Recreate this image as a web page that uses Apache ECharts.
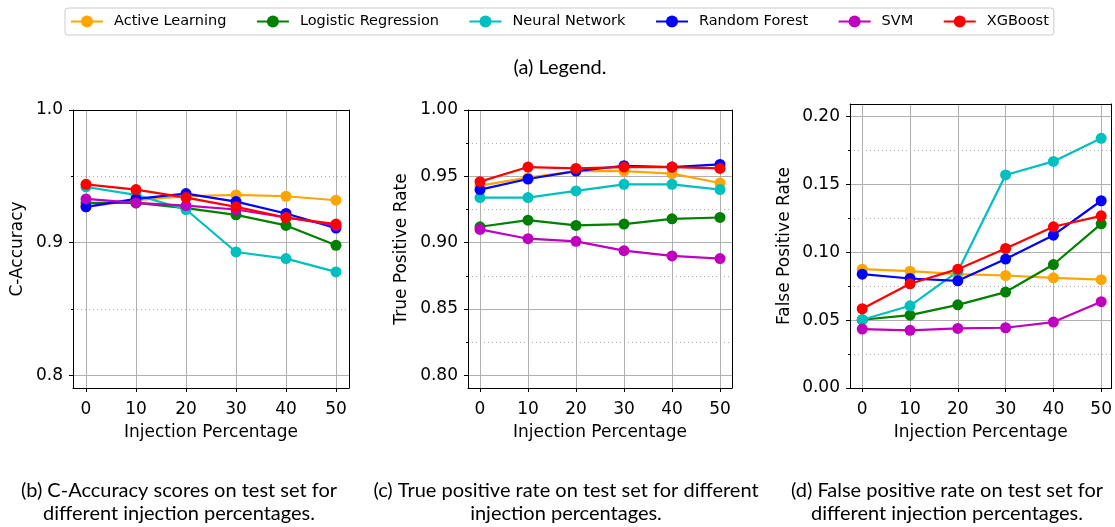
<!DOCTYPE html>
<html><head><meta charset="utf-8">
<script src="https://cdn.jsdelivr.net/npm/echarts@6/dist/echarts.min.js"></script>
<style>html,body{margin:0;padding:0;background:#fff}#c{width:1115px;height:527px}</style>
</head><body><div id="c"></div>
<script>
// ---------- data ----------
const xValues = [0, 10, 20, 30, 40, 50];
const seriesNames = ['Active Learning', 'Logistic Regression', 'Neural Network', 'Random Forest', 'SVM', 'XGBoost'];
const seriesColors = ['#ffa500', '#008000', '#00bfbf', '#0000ff', '#bf00bf', '#ff0000'];

// (b) C-Accuracy
const accActive   = [0.927, 0.932, 0.935, 0.936, 0.935, 0.932];
const accLogistic = [0.930, 0.930, 0.926, 0.921, 0.913, 0.898];
const accNeural   = [0.942, 0.936, 0.925, 0.893, 0.888, 0.878];
const accForest   = [0.927, 0.933, 0.937, 0.931, 0.922, 0.911];
const accSVM      = [0.933, 0.930, 0.928, 0.925, 0.919, 0.913];
const accXGB      = [0.944, 0.940, 0.934, 0.927, 0.919, 0.914];

// (c) True positive rate
const tprActive   = [0.943, 0.949, 0.954, 0.954, 0.952, 0.945];
const tprLogistic = [0.912, 0.917, 0.913, 0.914, 0.918, 0.919];
const tprNeural   = [0.934, 0.934, 0.939, 0.944, 0.944, 0.940];
const tprForest   = [0.940, 0.948, 0.954, 0.958, 0.957, 0.959];
const tprSVM      = [0.910, 0.903, 0.901, 0.894, 0.890, 0.888];
const tprXGB      = [0.946, 0.957, 0.956, 0.957, 0.957, 0.956];

// (d) False positive rate
const fprActive   = [0.0876, 0.0861, 0.0839, 0.0829, 0.0812, 0.0798];
const fprLogistic = [0.0503, 0.0537, 0.0613, 0.0707, 0.0910, 0.1210];
const fprNeural   = [0.0503, 0.0606, 0.0859, 0.1570, 0.1670, 0.1840];
const fprForest   = [0.0839, 0.0807, 0.0790, 0.0950, 0.1126, 0.1380];
const fprSVM      = [0.0434, 0.0425, 0.0439, 0.0444, 0.0486, 0.0636];
const fprXGB      = [0.0584, 0.0768, 0.0876, 0.1028, 0.1188, 0.1269];

// tick labels
const accMajorTicks = [0.8, 0.9, 1.0];
const accMinorTicks = [0.85, 0.95];
const tprMajorTicks = [0.80, 0.85, 0.90, 0.95, 1.00];
const tprMinorTicks = [0.825, 0.875, 0.925, 0.975];
const fprMajorTicks = [0.00, 0.05, 0.10, 0.15, 0.20];
const fprMinorTicks = [0.025, 0.075, 0.125, 0.175];

const xAxisTitle = 'Injection Percentage';
const yTitles = ['C-Accuracy', 'True Positive Rate', 'False Positive Rate'];
const legendCaption = '(a) Legend.';
const captions = [
  ['(b) C-Accuracy scores on test set for', 'different injection percentages.'],
  ['(c) True positive rate on test set for different', 'injection percentages.'],
  ['(d) False positive rate on test set for', 'different injection percentages.']
];

// ---------- layout ----------
const panels = [
  { data: [accActive, accLogistic, accNeural, accForest, accSVM, accXGB], major: accMajorTicks, minor: accMinorTicks, dec: 1,
    grid: { left: 73, top: 110, width: 276, height: 278 }, xmin: -2.6, xmax: 52.6, ymin: 0.7905, ymax: 1.0, nameGap: 47, capX: 179 },
  { data: [tprActive, tprLogistic, tprNeural, tprForest, tprSVM, tprXGB], major: tprMajorTicks, minor: tprMinorTicks, dec: 2,
    grid: { left: 468, top: 110, width: 264, height: 278 }, xmin: -2.5, xmax: 52.5, ymin: 0.7905, ymax: 1.0, nameGap: 58, capX: 566 },
  { data: [fprActive, fprLogistic, fprNeural, fprForest, fprSVM, fprXGB], major: fprMajorTicks, minor: fprMinorTicks, dec: 2,
    grid: { left: 850, top: 104, width: 263, height: 284 }, xmin: -2.56, xmax: 52.17, ymin: 0, ymax: 0.2093, nameGap: 57, capX: 947 }
];

const FONT = 'DejaVu Sans';
const grids = [], xAxes = [], yAxes = [], series = [], graphics = [];
const spine = { show: true, onZero: false, lineStyle: { color: '#000', width: 1 } };

panels.forEach((p, k) => {
  grids.push(Object.assign({ show: false }, p.grid));
  // bottom x axis (index 2k) and top frame axis (2k+1)
  xAxes.push({
    gridIndex: k, type: 'value', min: p.xmin, max: p.xmax, position: 'bottom',
    axisLine: spine,
    axisTick: { show: true, customValues: xValues, length: 4, lineStyle: { color: '#000', width: 1 } },
    axisLabel: { customValues: xValues, margin: 13, fontFamily: FONT, fontSize: 17, color: '#000', formatter: v => String(v) },
    splitLine: { show: true, lineStyle: { color: '#b0b0b0', width: 1 } },
    name: xAxisTitle, nameLocation: 'middle', nameGap: 36,
    nameTextStyle: { fontFamily: FONT, fontSize: 17, color: '#000' }
  });
  xAxes.push({
    gridIndex: k, type: 'value', min: p.xmin, max: p.xmax, position: 'top',
    axisLine: spine, axisTick: { show: false }, axisLabel: { show: false }, splitLine: { show: false }
  });
  // major y (3k), minor y (3k+1), right frame (3k+2)
  yAxes.push({
    gridIndex: k, type: 'value', min: p.ymin, max: p.ymax, position: 'left', offset: 0,
    axisLine: spine,
    axisTick: { show: true, customValues: p.major, length: 4, lineStyle: { color: '#000', width: 1 } },
    axisLabel: { customValues: p.major, margin: 10, fontFamily: FONT, fontSize: 17, color: '#000', formatter: v => v.toFixed(p.dec) },
    splitLine: { show: true, lineStyle: { color: '#b0b0b0', width: 1 } },
    name: yTitles[k], nameLocation: 'middle', nameGap: p.nameGap,
    nameTextStyle: { fontFamily: FONT, fontSize: 17, color: '#000' }
  });
  yAxes.push({
    gridIndex: k, type: 'value', min: p.ymin, max: p.ymax, position: 'left', offset: 0,
    axisLine: { show: false, onZero: false },
    axisTick: { show: true, customValues: p.minor, length: 2, lineStyle: { color: '#000', width: 1 } },
    axisLabel: { show: false },
    splitLine: { show: true, lineStyle: { color: '#b0b0b0', width: 1, type: [1, 3] } }
  });
  yAxes.push({
    gridIndex: k, type: 'value', min: p.ymin, max: p.ymax, position: 'right', offset: 0,
    axisLine: spine, axisTick: { show: false }, axisLabel: { show: false }, splitLine: { show: false }
  });
  p.data.forEach((arr, i) => {
    series.push({
      type: 'line', name: seriesNames[i], xAxisIndex: 2 * k, yAxisIndex: 3 * k,
      data: xValues.map((x, j) => [x, arr[j]]),
      symbol: 'circle', symbolSize: 11, clip: false,
      lineStyle: { width: 2.2, color: seriesColors[i] },
      itemStyle: { color: seriesColors[i] },
      emphasis: { disabled: true }
    });
  });
  graphics.push({ type: 'text', x: p.capX, y: 491, style: { text: captions[k][0], font: '20px Lato', fill: '#000', textAlign: 'center', textVerticalAlign: 'middle' } });
  graphics.push({ type: 'text', x: p.capX, y: 514, style: { text: captions[k][1], font: '20px Lato', fill: '#000', textAlign: 'center', textVerticalAlign: 'middle' } });
});
graphics.push({ type: 'text', x: 560, y: 68, style: { text: legendCaption, font: '20px Lato', fill: '#000', textAlign: 'center', textVerticalAlign: 'middle' } });

const chart = echarts.init(document.getElementById('c'), null, { renderer: 'canvas' });
chart.setOption({
  animation: false,
  backgroundColor: '#fff',
  color: seriesColors,
  legend: {
    data: seriesNames, left: 65, top: 8, orient: 'horizontal',
    padding: [6, 5, 6, 5], itemWidth: 32, itemHeight: 15, itemGap: 29.5,
    backgroundColor: '#fff', borderColor: '#cccccc', borderWidth: 1, borderRadius: 3,
    selectedMode: false,
    textStyle: { fontFamily: FONT, fontSize: 14.5, color: '#000', padding: [0, 0, 0, 6] }
  },
  grid: grids, xAxis: xAxes, yAxis: yAxes, series: series,
  graphic: graphics
});
</script>
</body></html>
